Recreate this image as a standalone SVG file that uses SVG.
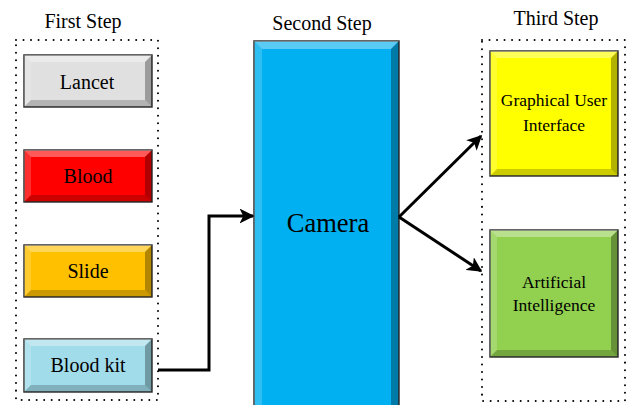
<svg xmlns="http://www.w3.org/2000/svg" width="627" height="405" viewBox="0 0 627 405">
  <defs>
    <marker id="arrow" viewBox="0 0 10 10" refX="9" refY="5" markerWidth="5" markerHeight="5" markerUnits="strokeWidth" orient="auto">
      <path d="M0,0 L10,5 L0,10 L2.5,5 Z" fill="#000"/>
    </marker>
  </defs>
  <style>
    .title { font-family: "Liberation Serif", "Times New Roman", serif; font-size: 20px; fill: #000; text-anchor: middle; }
    .label { font-family: "Liberation Serif", "Times New Roman", serif; font-size: 20px; fill: #000; text-anchor: middle; }
    .small { font-family: "Liberation Serif", "Times New Roman", serif; font-size: 17.5px; fill: #000; text-anchor: middle; }
    .big { font-family: "Liberation Serif", "Times New Roman", serif; font-size: 26.5px; fill: #000; text-anchor: middle; }
    .frame { fill: none; stroke: #000; stroke-width: 2; stroke-dasharray: 0.01 7.5; stroke-linecap: round; }
    .box { stroke: #333; stroke-width: 1.5; }
    .hi { fill: #fff; opacity: 0.35; }
    .hi2 { fill: #fff; opacity: 0.18; }
    .sh { fill: #000; opacity: 0.2; }
    .sh2 { fill: #000; opacity: 0.3; }
    .wire { fill: none; stroke: #000; stroke-width: 3; }
  </style>

  <!-- step frames -->
  <rect class="frame" x="16" y="40" width="142" height="360"/>
  <rect class="frame" x="482" y="40" width="143" height="361"/>

  <!-- column headings -->
  <text class="title" x="83" y="28">First Step</text>
  <text class="title" x="322" y="30">Second Step</text>
  <text class="title" x="556" y="25">Third Step</text>

  <!-- first step -->
  <g id="lancet">
    <rect class="box" x="24" y="55" width="128" height="52" fill="#e0e0e0"/>
    <polygon class="hi" points="24,55 152,55 145,62 31,62"/>
    <polygon class="hi2" points="24,55 31,62 31,100 24,107"/>
    <polygon class="sh" points="24,107 31,100 145,100 152,107"/>
    <polygon class="sh2" points="152,55 152,107 145,100 145,62"/>
    <text class="label" x="87" y="89">Lancet</text>
  </g>
  <g id="blood">
    <rect class="box" x="24" y="150" width="128" height="52" fill="#ff0000"/>
    <polygon class="hi" points="24,150 152,150 145,157 31,157"/>
    <polygon class="hi2" points="24,150 31,157 31,195 24,202"/>
    <polygon class="sh" points="24,202 31,195 145,195 152,202"/>
    <polygon class="sh2" points="152,150 152,202 145,195 145,157"/>
    <text class="label" x="88" y="183">Blood</text>
  </g>
  <g id="slide">
    <rect class="box" x="24" y="245" width="128" height="52" fill="#ffc000"/>
    <polygon class="hi" points="24,245 152,245 145,252 31,252"/>
    <polygon class="hi2" points="24,245 31,252 31,290 24,297"/>
    <polygon class="sh" points="24,297 31,290 145,290 152,297"/>
    <polygon class="sh2" points="152,245 152,297 145,290 145,252"/>
    <text class="label" x="88" y="278">Slide</text>
  </g>
  <g id="blood-kit">
    <rect class="box" x="24" y="339" width="128" height="53" fill="#a0dcea"/>
    <polygon class="hi" points="24,339 152,339 145,346 31,346"/>
    <polygon class="hi2" points="24,339 31,346 31,385 24,392"/>
    <polygon class="sh" points="24,392 31,385 145,385 152,392"/>
    <polygon class="sh2" points="152,339 152,392 145,385 145,346"/>
    <text class="label" x="88" y="372">Blood kit</text>
  </g>

  <!-- second step -->
  <g id="camera">
    <rect class="box" x="254" y="41" width="145" height="372" fill="#00b0f0"/>
    <polygon class="hi" points="254,41 399,41 391,49 262,49"/>
    <polygon class="hi2" points="254,41 262,49 262,413 254,413"/>
    <polygon class="sh2" points="399,41 399,413 391,413 391,49"/>
    <text class="big" x="328" y="232">Camera</text>
  </g>

  <!-- third step -->
  <g id="gui">
    <rect class="box" x="490" y="51" width="128" height="125" fill="#ffff00"/>
    <polygon class="hi" points="490,51 618,51 611,58 497,58"/>
    <polygon class="hi2" points="490,51 497,58 497,169 490,176"/>
    <polygon class="sh" points="490,176 497,169 611,169 618,176"/>
    <polygon class="sh2" points="618,51 618,176 611,169 611,58"/>
    <text class="small" x="554" y="106">Graphical User</text>
    <text class="small" x="554" y="131">Interface</text>
  </g>
  <g id="ai">
    <rect class="box" x="490" y="230" width="128" height="127" fill="#92d050"/>
    <polygon class="hi" points="490,230 618,230 611,237 497,237"/>
    <polygon class="hi2" points="490,230 497,237 497,350 490,357"/>
    <polygon class="sh" points="490,357 497,350 611,350 618,357"/>
    <polygon class="sh2" points="618,230 618,357 611,350 611,237"/>
    <text class="small" x="554" y="288">Artificial</text>
    <text class="small" x="554" y="311">Intelligence</text>
  </g>

  <!-- connectors -->
  <g id="connectors">
    <polyline class="wire" points="158,370 209,370 209,216 253,216" marker-end="url(#arrow)"/>
    <line class="wire" x1="399" y1="217" x2="481" y2="136" marker-end="url(#arrow)"/>
    <line class="wire" x1="399" y1="217" x2="481" y2="271" marker-end="url(#arrow)"/>
  </g>
</svg>
